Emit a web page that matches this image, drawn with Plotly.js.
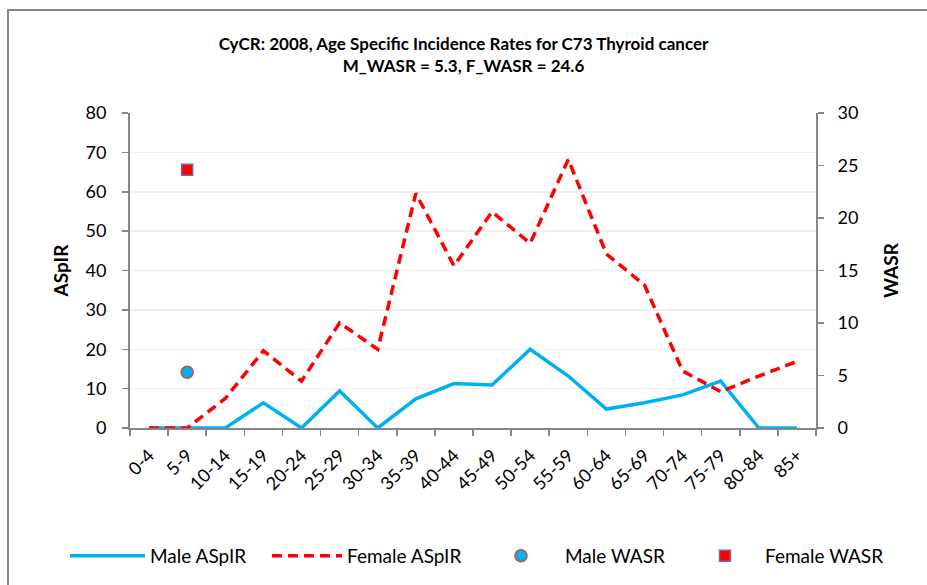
<!DOCTYPE html>
<html>
<head>
<meta charset="utf-8">
<script src="https://cdn.plot.ly/plotly-3.0.1.min.js"></script>
<style>
html,body{margin:0;padding:0;background:#fff;}
#wrap{position:relative;width:927px;height:585px;overflow:hidden;}
#chart{position:absolute;left:0;top:0;width:927px;height:585px;}
#frame{position:absolute;left:7px;top:9px;width:1000px;height:700px;border-left:2px solid #868686;border-top:2px solid #868686;pointer-events:none;}
</style>
</head>
<body>
<div id="wrap"><div id="chart"></div><div id="frame"></div></div>
<script>
var ageGroups = ["0-4","5-9","10-14","15-19","20-24","25-29","30-34","35-39","40-44","45-49","50-54","55-59","60-64","65-69","70-74","75-79","80-84","85+"];
var maleASpIR = [0,0,0,6.4,0,9.4,0,7.4,11.3,10.9,20.0,13.2,4.8,6.4,8.4,11.9,0,0];
var femaleASpIR = [0,0,7.5,19.6,11.9,26.7,20.0,59.6,41.2,54.9,46.9,68.2,44.2,36.3,14.5,9.2,13.2,16.9];
var wasrCategory = ["5-9"];
var maleWASR = [5.3];
var femaleWASR = [24.6];

var fontFam = "Lato, 'Open Sans', sans-serif";

var traces = [
  {x: ageGroups, y: maleASpIR, type: "scatter", mode: "lines", name: "Male ASpIR",
   line: {color: "#00B0F0", width: 3.5}, yaxis: "y", legend: "legend"},
  {x: ageGroups, y: femaleASpIR, type: "scatter", mode: "lines", name: "Female ASpIR",
   line: {color: "#FF0000", width: 3.5, dash: "10px,6px"}, yaxis: "y", legend: "legend2"},
  {x: wasrCategory, y: maleWASR, type: "scatter", mode: "markers", name: "Male WASR",
   marker: {symbol: "circle", size: 12, color: "#00B0F0", line: {color: "#C0504D", width: 1.5}}, yaxis: "y2", legend: "legend3"},
  {x: wasrCategory, y: femaleWASR, type: "scatter", mode: "markers", name: "Female WASR",
   marker: {symbol: "square", size: 11, color: "#FF0000", line: {color: "#8064A2", width: 1.5}}, yaxis: "y2", legend: "legend4"}
];

function leg(leftPx, itemW) {
  return {orientation: "h", xref: "container", x: leftPx / 927, xanchor: "left",
          yref: "container", y: 1 - 556 / 585, yanchor: "middle",
          font: {family: fontFam, size: 19, color: "#000"},
          itemwidth: itemW, bgcolor: "rgba(0,0,0,0)"};
}

var layout = {
  width: 927, height: 585,
  margin: {l: 130, r: 111, t: 113, b: 157},
  paper_bgcolor: "#fff", plot_bgcolor: "#fff",
  font: {family: fontFam, color: "#000"},
  showlegend: true,
  title: {text: "<b>CyCR: 2008, Age Specific Incidence Rates for C73 Thyroid cancer<br>M_WASR = 5.3, F_WASR = 24.6</b>",
          x: 0.5, xanchor: "center", xref: "container", y: 1 - 50 / 585, yanchor: "middle", yref: "container",
          font: {family: fontFam, size: 17, color: "#000"}},
  xaxis: {type: "category", range: [-0.5, 17.5], tickangle: -45, automargin: false,
          showline: true, linecolor: "#868686", linewidth: 2,
          ticks: "outside", tickson: "boundaries", ticklen: 6, tickcolor: "#868686", tickwidth: 1.5,
          ticklabelstandoff: 8,
          showgrid: false, zeroline: false,
          tickfont: {family: fontFam, size: 18, color: "#000"}},
  yaxis: {range: [0, 80], dtick: 10, showline: true, linecolor: "#868686", linewidth: 2, automargin: false,
          ticks: "outside", ticklen: 6, tickcolor: "#868686", tickwidth: 1.5, ticklabelstandoff: 12,
          showgrid: true, gridcolor: "#EFEFEF", gridwidth: 1.5, zeroline: false,
          tickfont: {family: fontFam, size: 18, color: "#000"},
          title: {text: "<b>ASpIR</b>", font: {family: fontFam, size: 19, color: "#000"}, standoff: 12}},
  yaxis2: {range: [0, 30], dtick: 5, overlaying: "y", side: "right", automargin: false,
           showline: true, linecolor: "#868686", linewidth: 2,
           ticks: "outside", ticklen: 6, tickcolor: "#868686", tickwidth: 1.5, ticklabelstandoff: 10,
           showgrid: false, zeroline: false,
           tickfont: {family: fontFam, size: 18, color: "#000"},
           title: {text: "<b>WASR</b>", font: {family: fontFam, size: 19, color: "#000"}, standoff: 27}},
  legend: leg(65, 75),
  legend2: leg(267, 70),
  legend3: leg(477, 78),
  legend4: leg(685, 70)
};

Plotly.newPlot("chart", traces, layout, {displayModeBar: false, staticPlot: true});
</script>
</body>
</html>
